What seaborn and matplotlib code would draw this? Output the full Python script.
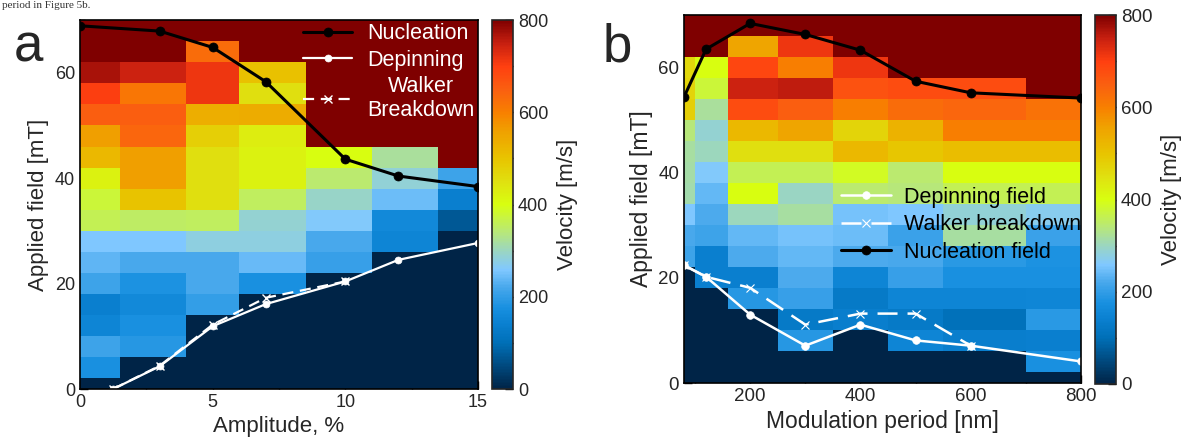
import numpy as np
import matplotlib
matplotlib.use("Agg")
import matplotlib.pyplot as plt
import seaborn as sns
from matplotlib.colors import LinearSegmentedColormap
from matplotlib.ticker import MultipleLocator

sns.set_style("ticks")
plt.rcParams['font.family'] = ['Liberation Sans', 'DejaVu Sans']

# ---------------- data: panel a ----------------
amplitude = [0, 3, 5, 7, 10, 12, 15]
field_a = [0, 4, 8, 12, 16, 20, 24, 28, 32, 36, 40, 44, 48, 52, 56, 60, 64, 68]
# velocity columns (one per amplitude), listed from field 0 up to field 68
vel_a_0 = [0, 175, 210, 150, 140, 210, 235, 258, 360, 375, 420, 520, 560, 650, 700, 770, 800, 800]
vel_a_3 = [0, 0, 190, 175, 160, 180, 220, 258, 350, 500, 560, 560, 640, 650, 615, 745, 800, 800]
vel_a_5 = [0, 0, 0, 0, 200, 220, 220, 280, 355, 450, 450, 450, 480, 535, 715, 715, 630, 800]
vel_a_7 = [0, 0, 0, 0, 0, 175, 243, 280, 290, 355, 420, 420, 430, 540, 450, 505, 800, 800]
vel_a_10 = [0, 0, 0, 0, 0, 0, 205, 220, 260, 295, 345, 400, 800, 800, 800, 800, 800, 800]
vel_a_12 = [0, 0, 0, 0, 0, 0, 0, 150, 160, 245, 285, 320, 800, 800, 800, 800, 800, 800]
vel_a_15 = [0, 0, 0, 0, 0, 0, 0, 0, 70, 140, 212, 800, 800, 800, 800, 800, 800, 800]

nuc_a_x = [0, 3, 5, 7, 10, 12, 15]
nuc_a_y = [68.9, 67.9, 64.8, 58.3, 43.6, 40.4, 38.4]
dep_a_x = [1.25, 3, 5, 7, 10, 12, 15]
dep_a_y = [0, 4.3, 11.9, 16.1, 20.4, 24.5, 27.7]
wb_a_x = [1.25, 3, 5, 7, 10]
wb_a_y = [0, 4.4, 12.2, 17.3, 20.4]

# ---------------- data: panel b ----------------
period = [80, 120, 200, 300, 400, 500, 600, 800]
field_b = [0, 4, 8, 12, 16, 20, 24, 28, 32, 36, 40, 44, 48, 52, 56, 60, 64, 68]
vel_b_80 = [0, 0, 0, 0, 0, 0, 210, 220, 258, 310, 315, 318, 340, 480, 470, 465, 800, 800]
vel_b_120 = [0, 0, 0, 0, 0, 140, 140, 212, 222, 240, 262, 300, 290, 320, 375, 400, 800, 800]
vel_b_200 = [0, 0, 0, 0, 190, 140, 222, 240, 300, 400, 360, 450, 520, 680, 745, 690, 550, 800]
vel_b_300 = [0, 0, 190, 125, 205, 222, 238, 250, 318, 298, 360, 450, 550, 650, 755, 600, 715, 800]
vel_b_400 = [0, 0, 0, 135, 125, 150, 222, 245, 250, 345, 390, 520, 470, 600, 670, 715, 800, 800]
vel_b_500 = [0, 0, 150, 125, 150, 205, 220, 208, 258, 340, 345, 495, 530, 630, 680, 800, 800, 800]
vel_b_600 = [0, 0, 135, 105, 150, 178, 192, 318, 285, 360, 400, 510, 600, 640, 680, 800, 800, 800]
vel_b_800 = [0, 175, 140, 192, 155, 178, 180, 208, 270, 360, 400, 510, 600, 620, 800, 800, 800, 800]

nuc_b_x = [80, 120, 200, 300, 400, 500, 600, 800]
nuc_b_y = [54.4, 63.5, 68.4, 66.3, 63.3, 57.4, 55.2, 54.2]
dep_b_x = [80, 120, 200, 300, 400, 500, 600, 800]
dep_b_y = [22.4, 20.2, 13.0, 7.1, 11.1, 8.1, 7.1, 4.1]
wb_b_x = [80, 120, 200, 300, 400, 500, 600]
wb_b_y = [22.4, 20.2, 18.1, 11.1, 13.2, 13.2, 7.1]

# ---------------- colormap ----------------
cmap_nodes = [
    (0.0, '#002447'), (0.125, '#0070b8'), (0.175, '#0a80d0'), (0.219, '#1890e0'),
    (0.275, '#48a8ec'), (0.3225, '#80c8ff'), (0.369, '#98d4c8'), (0.425, '#b8e878'),
    (0.5, '#d8ff10'), (0.5625, '#e0e010'), (0.625, '#e8c400'), (0.7, '#f0a000'),
    (0.75, '#f88000'), (0.8125, '#fa6010'), (0.875, '#ff4010'), (0.9375, '#c82010'),
    (1.0, '#7f0000')]
cmap = LinearSegmentedColormap.from_list('vel', cmap_nodes)

W, H = 1184, 440
fig = plt.figure(figsize=(W / 100, H / 100), dpi=100)

def fr(x0, y0, x1, y1):
    return [x0 / W, 1 - y1 / H, (x1 - x0) / W, (y1 - y0) / H]

ax_a = fig.add_axes(fr(80, 20, 478, 389))
cax_a = fig.add_axes(fr(492, 20, 513, 389))
ax_b = fig.add_axes(fr(684, 15, 1081, 383))
cax_b = fig.add_axes(fr(1095, 15, 1116, 384))

def style_ax(ax, fs):
    for s in ax.spines.values():
        s.set_linewidth(1.2)
        s.set_color('black')
        s.set_zorder(10)
    ax.tick_params(which='both', direction='in', color='black', labelsize=fs,
                   top=False, right=False, width=1.0)
    ax.tick_params(which='major', length=6)
    ax.tick_params(which='minor', length=3.5)

def style_cbar(cb, cax, fs):
    cb.outline.set_linewidth(1.2)
    cb.set_ticks([0, 200, 400, 600, 800])
    cax.yaxis.set_minor_locator(MultipleLocator(100))
    cax.tick_params(which='both', direction='in', labelsize=fs, width=1.0, color='black')
    cax.tick_params(which='major', length=6)
    cax.tick_params(which='minor', length=3.5)
    cb.set_label('Velocity [m/s]', fontsize=16, labelpad=6)

# ---------------- panel a ----------------
grid_a = np.column_stack([vel_a_0, vel_a_3, vel_a_5, vel_a_7, vel_a_10, vel_a_12, vel_a_15])
mesh_a = ax_a.pcolormesh(amplitude, field_a, grid_a, cmap=cmap, vmin=0, vmax=800,
                         shading='nearest')
sns.lineplot(x=nuc_a_x, y=nuc_a_y, ax=ax_a, color='black', lw=2.2, marker='o',
             markersize=6.5, mec='black', mew=0.5, sort=False, estimator=None,
             label='Nucleation', zorder=5)
sns.lineplot(x=dep_a_x, y=dep_a_y, ax=ax_a, color='white', lw=1.6, marker='o',
             markersize=5, mec='white', mew=0.5, sort=False, estimator=None,
             label='Depinning', zorder=4)
sns.lineplot(x=wb_a_x, y=wb_a_y, ax=ax_a, color='white', lw=1.6, marker='x',
             markersize=6, mec='white', mew=1.0, linestyle=(0, (5, 3)), sort=False,
             estimator=None, label='Walker\nBreakdown', zorder=4)
ax_a.set_xlim(0, 15)
ax_a.set_ylim(0, 70)
ax_a.xaxis.set_major_locator(MultipleLocator(5))
ax_a.xaxis.set_minor_locator(MultipleLocator(2.5))
ax_a.yaxis.set_major_locator(MultipleLocator(20))
ax_a.yaxis.set_minor_locator(MultipleLocator(5))
style_ax(ax_a, 13)
ax_a.set_xlabel('Amplitude, %', fontsize=16, labelpad=4)
ax_a.set_ylabel('Applied field [mT]', fontsize=16, labelpad=4)
leg_a = ax_a.legend(loc='upper right', bbox_to_anchor=(1.0, 1.0), frameon=False,
                    fontsize=15.5, handlelength=2.3, handletextpad=0.7,
                    labelspacing=0.25, borderaxespad=0.0, borderpad=0.15)
for t in leg_a.get_texts():
    t.set_color('white')
    t.set_multialignment('center')
cb_a = fig.colorbar(mesh_a, cax=cax_a)
style_cbar(cb_a, cax_a, 13)

# ---------------- panel b ----------------
grid_b = np.column_stack([vel_b_80, vel_b_120, vel_b_200, vel_b_300, vel_b_400,
                          vel_b_500, vel_b_600, vel_b_800])
mesh_b = ax_b.pcolormesh(period, field_b, grid_b, cmap=cmap, vmin=0, vmax=800,
                         shading='nearest')
sns.lineplot(x=dep_b_x, y=dep_b_y, ax=ax_b, color='white', lw=1.8, marker='o',
             markersize=5.5, mec='white', mew=0.5, sort=False, estimator=None,
             label='Depinning field', zorder=4)
sns.lineplot(x=wb_b_x, y=wb_b_y, ax=ax_b, color='white', lw=1.8, marker='x',
             markersize=6, mec='white', mew=0.8, linestyle=(0, (8, 4)), sort=False,
             estimator=None, label='Walker breakdown', zorder=4)
sns.lineplot(x=nuc_b_x, y=nuc_b_y, ax=ax_b, color='black', lw=2.2, marker='o',
             markersize=6.5, mec='black', mew=0.5, sort=False, estimator=None,
             label='Nucleation field', zorder=5)
ax_b.set_xlim(80, 800)
ax_b.set_ylim(0, 70)
ax_b.xaxis.set_major_locator(MultipleLocator(200))
ax_b.xaxis.set_minor_locator(MultipleLocator(100))
ax_b.yaxis.set_major_locator(MultipleLocator(20))
ax_b.yaxis.set_minor_locator(MultipleLocator(10))
style_ax(ax_b, 13.5)
ax_b.set_xlabel('Modulation period [nm]', fontsize=16.5, labelpad=4)
ax_b.set_ylabel('Applied field [mT]', fontsize=16.5, labelpad=4)
leg_b = ax_b.legend(loc='center right', bbox_to_anchor=(1.0, 0.43), frameon=False,
                    fontsize=15.5, handlelength=2.3, handletextpad=0.6,
                    labelspacing=0.3, borderaxespad=0.0, borderpad=0.0)
for t in leg_b.get_texts():
    t.set_color('black')
cb_b = fig.colorbar(mesh_b, cax=cax_b)
style_cbar(cb_b, cax_b, 13.5)

# panel letters
fig.text(14 / W, 1 - 62 / H, 'a', fontsize=38, va='baseline', ha='left')
fig.text(603 / W, 1 - 62 / H, 'b', fontsize=38, va='baseline', ha='left')
# line of the surrounding document text (shown small, fully inside the figure)
fig.text(2 / W, 1 - 8 / H, 'period in Figure 5b.', fontsize=8, va='baseline',
         ha='left', color='#333333', family=['Liberation Serif', 'DejaVu Serif'])

fig.savefig('out.png', dpi=100)
